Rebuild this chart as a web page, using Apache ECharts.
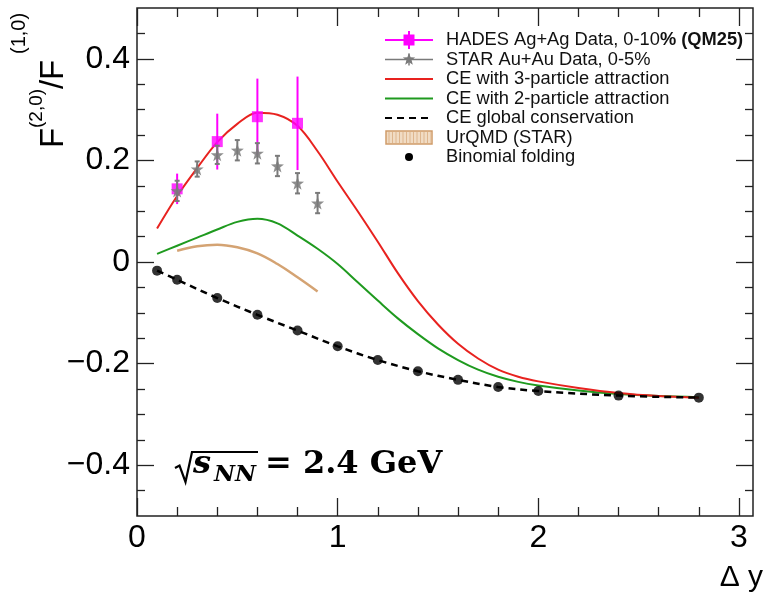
<!DOCTYPE html>
<html><head><meta charset="utf-8">
<script src="https://cdn.jsdelivr.net/npm/echarts@6/dist/echarts.min.js"></script>
<style>html,body{margin:0;padding:0;background:#fff}#c{width:773px;height:593px}</style>
</head><body><div id="c"></div>
<script>
// ---- tick labels ----
const xTickLabels = [0, 1, 2, 3];
const yTickLabels = [-0.4, -0.2, 0, 0.2, 0.4];

// ---- HADES Ag+Ag data ----
const hadesX = [0.2, 0.4, 0.6, 0.8];
const hadesY = [0.144, 0.237, 0.286, 0.273];
const hadesErr = [0.030, 0.055, 0.075, 0.092];

// ---- STAR Au+Au data ----
const starX = [0.2, 0.3, 0.4, 0.5, 0.6, 0.7, 0.8, 0.9];
const starY = [0.140, 0.183, 0.211, 0.220, 0.214, 0.189, 0.155, 0.116];
const starErr = [0.020, 0.015, 0.018, 0.020, 0.020, 0.020, 0.020, 0.020];

// ---- CE curves ----
const curveX = [0.1, 0.2, 0.3, 0.4, 0.5, 0.6, 0.7, 0.8, 0.9, 1.0, 1.1, 1.2, 1.3, 1.4, 1.5, 1.6, 1.7, 1.8, 1.9, 2.0, 2.2, 2.4, 2.6, 2.8];
const ce3Y = [0.066, 0.130, 0.185, 0.236, 0.272, 0.294, 0.290, 0.268, 0.218, 0.158, 0.100, 0.040, -0.022, -0.077, -0.123, -0.161, -0.190, -0.212, -0.226, -0.235, -0.248, -0.258, -0.264, -0.267];
const ce2Y = [0.016, 0.032, 0.048, 0.064, 0.079, 0.085, 0.076, 0.052, 0.026, -0.004, -0.040, -0.076, -0.111, -0.142, -0.170, -0.193, -0.212, -0.226, -0.236, -0.243, -0.253, -0.260, -0.264, -0.266];

// ---- UrQMD (STAR) ----
const urqmdX = [0.2, 0.3, 0.4, 0.5, 0.6, 0.7, 0.8, 0.9];
const urqmdY = [0.022, 0.031, 0.034, 0.029, 0.017, -0.004, -0.030, -0.058];

// ---- CE global conservation (dashed) ----
const ceGlobalX = [0.1, 0.2, 0.4, 0.6, 0.8, 1.0, 1.2, 1.4, 1.6, 1.8, 2.0, 2.4, 2.8];
const ceGlobalY = [-0.017, -0.035, -0.071, -0.104, -0.135, -0.166, -0.193, -0.215, -0.232, -0.246, -0.254, -0.263, -0.267];

// ---- Binomial folding points ----
const binomX = [0.1, 0.2, 0.4, 0.6, 0.8, 1.0, 1.2, 1.4, 1.6, 1.8, 2.0, 2.4, 2.8];
const binomY = [-0.017, -0.035, -0.071, -0.104, -0.135, -0.166, -0.193, -0.215, -0.232, -0.246, -0.254, -0.263, -0.267];

const X_MIN = 0, X_MAX = 3.07, Y_MIN = -0.5, Y_MAX = 0.5;
const r3 = v => Math.round(v * 1000) / 1000;
const xMinorTicks = [];
for (let i = 1; i * 0.2 < X_MAX; i++) { const v = r3(i * 0.2); if (Math.abs(v - Math.round(v)) > 1e-6) xMinorTicks.push(v); }
const yMinorTicks = [];
for (let i = -9; i <= 9; i++) { const v = r3(i * 0.05); if (Math.abs(v / 0.2 - Math.round(v / 0.2)) > 1e-6) yMinorTicks.push(v); }

const zip = (a, b) => a.map((v, i) => [v, b[i]]);
const zip3 = (a, b, c) => a.map((v, i) => [v, b[i], c[i]]);

const FRAME = '#222';
const SANS = '"Liberation Sans", Arial, Helvetica, sans-serif';
const STAR_PATH = 'path://M0,-10L2.35,-3.24L9.51,-3.09L3.8,1.24L5.88,8.09L0,4L-5.88,8.09L-3.8,1.24L-9.51,-3.09L-2.35,-3.24Z';

function tickAxis(kind, pos, values, len, labels) {
  const a = {
    type: 'value', position: pos,
    min: kind === 'x' ? X_MIN : Y_MIN, max: kind === 'x' ? X_MAX : Y_MAX,
    axisLine: { show: false, onZero: false },
    splitLine: { show: false },
    axisTick: { show: true, inside: true, length: len, customValues: values, lineStyle: { color: FRAME, width: 1.3 } },
    axisLabel: { show: false },
    axisPointer: { show: false }
  };
  if (labels) {
    a.axisLabel = {
      show: true, customValues: labels, color: '#000', fontSize: 32, fontFamily: SANS,
      margin: kind === 'x' ? 6 : 7,
      formatter: v => (v < 0 ? '\u2212' + Math.abs(v) : String(v))
    };
  }
  return a;
}

const xAxes = [
  tickAxis('x', 'bottom', xTickLabels, 18, xTickLabels),
  tickAxis('x', 'bottom', xMinorTicks, 9),
  tickAxis('x', 'top', xTickLabels, 18),
  tickAxis('x', 'top', xMinorTicks, 9)
];
xAxes[0].name = '\u0394 y';
xAxes[0].nameLocation = 'end';
xAxes[0].nameGap = 10;
xAxes[0].nameTextStyle = { fontSize: 30, fontFamily: SANS, color: '#000', align: 'right', verticalAlign: 'top', padding: [47, 0, 0, 0] };

const yAxes = [
  tickAxis('y', 'left', yTickLabels, 17, yTickLabels),
  tickAxis('y', 'left', yMinorTicks, 8),
  tickAxis('y', 'right', yTickLabels, 17),
  tickAxis('y', 'right', yMinorTicks, 8)
];

function errorBars(color, cap, width) {
  return function (params, api) {
    const x = api.value(0), y = api.value(1), e = api.value(2);
    const t = api.coord([x, y + e]), b = api.coord([x, y - e]);
    const ch = [{ type: 'line', shape: { x1: t[0], y1: t[1], x2: b[0], y2: b[1] }, style: { stroke: color, lineWidth: width } }];
    if (cap > 0) {
      ch.push({ type: 'line', shape: { x1: t[0] - cap, y1: t[1], x2: t[0] + cap, y2: t[1] }, style: { stroke: color, lineWidth: width } });
      ch.push({ type: 'line', shape: { x1: b[0] - cap, y1: b[1], x2: b[0] + cap, y2: b[1] }, style: { stroke: color, lineWidth: width } });
    }
    return { type: 'group', children: ch };
  };
}

const RED = '#e8221f', GREEN = '#1f9a1f', MAG = '#ff00ff', GRAY = '#7a7a7a', BROWN = '#d4a373';

// ---- legend (drawn) ----
const LX0 = 385, LX1 = 433, LXC = 409, LTX = 446;
const rows = [40, 59.5, 79, 98.5, 118, 137.5, 157];
const legendTexts = [
  'HADES Ag+Ag Data, 0-10{b|% (QM25)}',
  'STAR Au+Au Data, 0-5%',
  'CE with 3-particle attraction',
  'CE with 2-particle attraction',
  'CE global conservation',
  'UrQMD (STAR)',
  'Binomial folding'
];
function starPts(cx, cy, R) {
  const pts = [];
  for (let k = 0; k < 10; k++) {
    const rr = k % 2 === 0 ? R : R * 0.42;
    const ang = -Math.PI / 2 + k * Math.PI / 5;
    pts.push([cx + rr * Math.cos(ang), cy + rr * Math.sin(ang)]);
  }
  return pts;
}
const legendEls = [];
legendTexts.forEach((t, i) => {
  legendEls.push({
    type: 'text', x: LTX, y: rows[i],
    style: { text: t, font: '18.3px ' + SANS, fill: '#111', align: 'left', verticalAlign: 'middle', textAlign: 'left', textVerticalAlign: 'middle',
      rich: { b: { fontWeight: 'bold', fontSize: 18.3, fontFamily: SANS, fill: '#111' } } }
  });
});
// HADES icon
legendEls.push({ type: 'line', shape: { x1: LX0, y1: rows[0], x2: LX1, y2: rows[0] }, style: { stroke: MAG, lineWidth: 2 } });
legendEls.push({ type: 'line', shape: { x1: LXC, y1: rows[0] - 9, x2: LXC, y2: rows[0] + 9 }, style: { stroke: MAG, lineWidth: 2 } });
legendEls.push({ type: 'rect', shape: { x: LXC - 5.5, y: rows[0] - 5.5, width: 11, height: 11 }, style: { fill: MAG } });
// STAR icon
legendEls.push({ type: 'line', shape: { x1: LX0, y1: rows[1], x2: LX1, y2: rows[1] }, style: { stroke: GRAY, lineWidth: 1.5 } });
legendEls.push({ type: 'line', shape: { x1: LXC, y1: rows[1] - 6, x2: LXC, y2: rows[1] + 6 }, style: { stroke: GRAY, lineWidth: 1.5 } });
legendEls.push({ type: 'polygon', shape: { points: starPts(LXC, rows[1], 6.5) }, style: { fill: GRAY } });
// CE lines
legendEls.push({ type: 'line', shape: { x1: LX0, y1: rows[2], x2: LX1, y2: rows[2] }, style: { stroke: RED, lineWidth: 2 } });
legendEls.push({ type: 'line', shape: { x1: LX0, y1: rows[3], x2: LX1, y2: rows[3] }, style: { stroke: GREEN, lineWidth: 2 } });
legendEls.push({ type: 'line', shape: { x1: LX0, y1: rows[4], x2: LX1, y2: rows[4] }, style: { stroke: '#000', lineWidth: 2, lineDash: [7, 5] } });
// UrQMD box
legendEls.push({ type: 'rect', shape: { x: LX0 + 1, y: rows[5] - 6.5, width: 46, height: 13 }, style: { fill: '#f1dcc4', stroke: '#cf9c6a', lineWidth: 1.5 } });
for (let sx = LX0 + 4; sx < LX1 - 1; sx += 3.5) {
  legendEls.push({ type: 'line', shape: { x1: sx, y1: rows[5] - 5.5, x2: sx, y2: rows[5] + 5.5 }, style: { stroke: '#deb68e', lineWidth: 1 } });
}
// Binomial dot
legendEls.push({ type: 'circle', shape: { cx: LXC, cy: rows[6], r: 4 }, style: { fill: '#000' } });

// ---- y-axis title (rotated) ----
const yTitle = {
  type: 'group', x: 0, y: 150, rotation: Math.PI / 2,
  children: [
    { type: 'text', x: 2, y: 54, style: { text: 'F', font: '33px ' + SANS, fill: '#000', align: 'left', verticalAlign: 'middle', textAlign: 'left', textVerticalAlign: 'middle' } },
    { type: 'text', x: 22, y: 37, style: { text: '(2,0)', font: '19px ' + SANS, fill: '#000', align: 'left', verticalAlign: 'middle', textAlign: 'left', textVerticalAlign: 'middle' } },
    { type: 'text', x: 61, y: 54, style: { text: '/', font: '33px ' + SANS, fill: '#000', align: 'left', verticalAlign: 'middle', textAlign: 'left', textVerticalAlign: 'middle' } },
    { type: 'text', x: 70, y: 54, style: { text: 'F', font: '33px ' + SANS, fill: '#000', align: 'left', verticalAlign: 'middle', textAlign: 'left', textVerticalAlign: 'middle' } },
    { type: 'text', x: 96, y: 19, style: { text: '(1,0)', font: '20px ' + SANS, fill: '#000', align: 'left', verticalAlign: 'middle', textAlign: 'left', textVerticalAlign: 'middle' } }
  ]
};

// ---- sqrt(s_NN) annotation ----
const SERIF = '"DejaVu Serif", serif';
const annot = [
  { type: 'polyline', shape: { points: [[175, 468], [179.5, 465.5], [185.5, 482], [192, 452], [258, 452]] }, style: { stroke: '#000', lineWidth: 2.2, fill: null } },
  { type: 'text', x: 193, y: 465, style: { text: 's', font: 'italic bold 32px ' + SERIF, fill: '#000', align: 'left', verticalAlign: 'middle', textAlign: 'left', textVerticalAlign: 'middle' } },
  { type: 'text', x: 214, y: 475, style: { text: 'NN', font: 'italic bold 23px ' + SERIF, fill: '#000', align: 'left', verticalAlign: 'middle', textAlign: 'left', textVerticalAlign: 'middle' } },
  { type: 'text', x: 265, y: 465, style: { text: '= 2.4 GeV', font: 'bold 32px ' + SERIF, fill: '#000', align: 'left', verticalAlign: 'middle', textAlign: 'left', textVerticalAlign: 'middle' } }
];

const option = {
  animation: false,
  backgroundColor: '#fff',
  grid: { left: 137, right: 20, top: 8, bottom: 77, show: true, borderColor: FRAME, borderWidth: 1.5, backgroundColor: 'transparent', containLabel: false, outerBoundsMode: 'none' },
  xAxis: xAxes,
  yAxis: yAxes,
  graphic: { elements: legendEls.concat([yTitle]).concat(annot) },
  series: [
    { name: 'UrQMD (STAR)', type: 'line', data: zip(urqmdX, urqmdY), smooth: 0.4, showSymbol: false, symbol: 'none', lineStyle: { color: BROWN, width: 2.5 }, z: 2 },
    { name: 'CE with 2-particle attraction', type: 'line', data: zip(curveX, ce2Y), smooth: 0.35, symbol: 'none', lineStyle: { color: GREEN, width: 2 }, z: 2 },
    { name: 'CE with 3-particle attraction', type: 'line', data: zip(curveX, ce3Y), smooth: 0.35, symbol: 'none', lineStyle: { color: RED, width: 2 }, z: 2 },
    { name: 'CE global conservation', type: 'line', data: zip(ceGlobalX, ceGlobalY), smooth: 0.35, symbol: 'none', lineStyle: { color: '#000', width: 2.5, type: [7, 5] }, z: 2 },
    { name: 'Binomial folding', type: 'scatter', data: zip(binomX, binomY), symbol: 'circle', symbolSize: 10, itemStyle: { color: '#000' }, z: 3 },
    { name: 'HADES err', type: 'custom', data: zip3(hadesX, hadesY, hadesErr), renderItem: errorBars(MAG, 0, 2), z: 4 },
    { name: 'HADES Ag+Ag Data, 0-10% (QM25)', type: 'scatter', data: zip(hadesX, hadesY), symbol: 'rect', symbolSize: 11, itemStyle: { color: MAG }, z: 4 },
    { name: 'STAR err', type: 'custom', data: zip3(starX, starY, starErr), renderItem: errorBars(GRAY, 2.5, 2), z: 5, itemStyle: { opacity: 0.85 } },
    { name: 'STAR Au+Au Data, 0-5%', type: 'scatter', data: zip(starX, starY), symbol: STAR_PATH, symbolSize: 13, itemStyle: { color: GRAY, opacity: 0.85 }, z: 5 }
  ]
};
const chart = echarts.init(document.getElementById('c'), null, { renderer: 'canvas' });
chart.setOption(option);
</script>
</body></html>
